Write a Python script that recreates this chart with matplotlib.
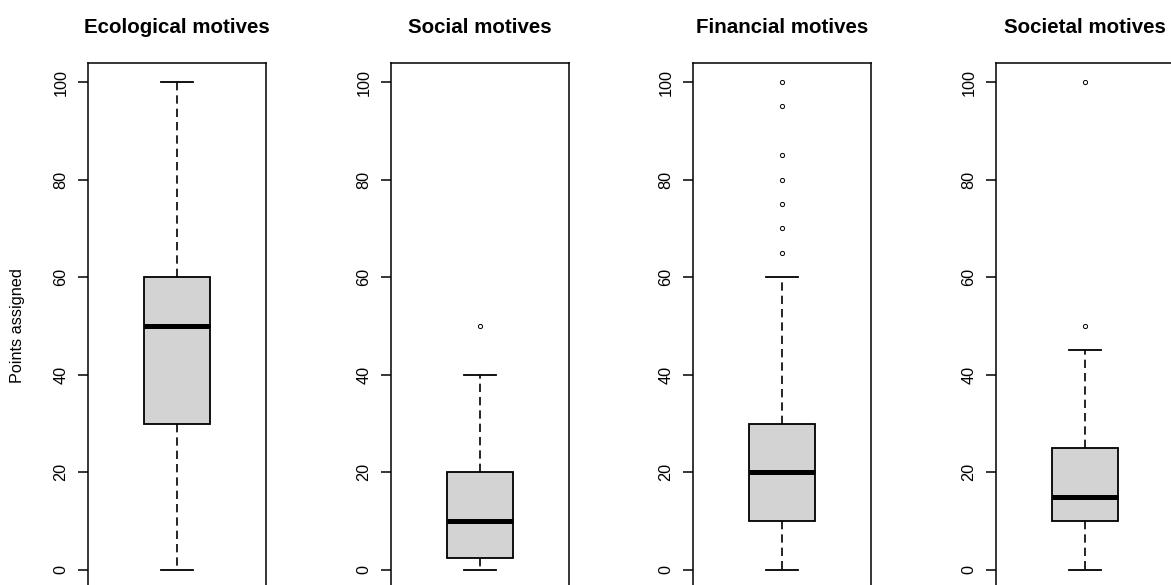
import matplotlib.pyplot as plt

plt.rcParams['font.family'] = ['Liberation Sans', 'DejaVu Sans']

# boxplot summaries (points assigned out of 100)
titles = ["Ecological motives", "Social motives", "Financial motives", "Societal motives"]
whislo = [0, 0, 0, 0]
q1 = [30, 2.5, 10, 10]
med = [50, 10, 20, 15]
q3 = [60, 20, 30, 25]
whishi = [100, 40, 60, 45]
fliers = [[], [50], [65, 70, 75, 80, 85, 95, 100], [50, 100]]
yticks = [0, 20, 40, 60, 80, 100]

W, H = 1171, 585
fig = plt.figure(figsize=(W / 100, H / 100), dpi=100)

lefts = [88, 391, 693, 996]
ax_w = 178
ax_top, ax_bot = 62.5, 589.5

for i, title in enumerate(titles):
    ax = fig.add_axes([lefts[i] / W, (H - ax_bot) / H, ax_w / W, (ax_bot - ax_top) / H])
    stats = [dict(whislo=whislo[i], q1=q1[i], med=med[i], q3=q3[i],
                  whishi=whishi[i], fliers=fliers[i])]
    ax.bxp(stats, positions=[1], widths=0.4, capwidths=0.2, patch_artist=True,
           boxprops=dict(facecolor='#D3D3D3', edgecolor='black', linewidth=1.3),
           medianprops=dict(color='black', linewidth=3.6, solid_capstyle='butt'),
           whiskerprops=dict(color='black', linewidth=1.2, linestyle=(0, (5, 3))),
           capprops=dict(color='black', linewidth=1.3),
           flierprops=dict(marker='o', markersize=3, markerfacecolor='none',
                           markeredgecolor='black', markeredgewidth=0.7))
    ax.set_xlim(0.46, 1.54)
    ax.set_ylim(-4, 104)
    ax.set_xticks([])
    ax.set_yticks(yticks)
    ax.set_yticklabels([str(t) for t in yticks], rotation=90, va='center')
    ax.tick_params(axis='y', length=7, width=1.1, pad=7, labelsize=11.7)
    for s in ax.spines.values():
        s.set_linewidth(1.1)
    ax.set_title(title, fontsize=14.8, fontweight='bold', pad=21)

fig.text(18 / W, (H - 326) / H, "Points assigned", rotation=90,
         ha='center', va='center', fontsize=11.7)

fig.savefig("out.png", dpi=100, facecolor='white')
